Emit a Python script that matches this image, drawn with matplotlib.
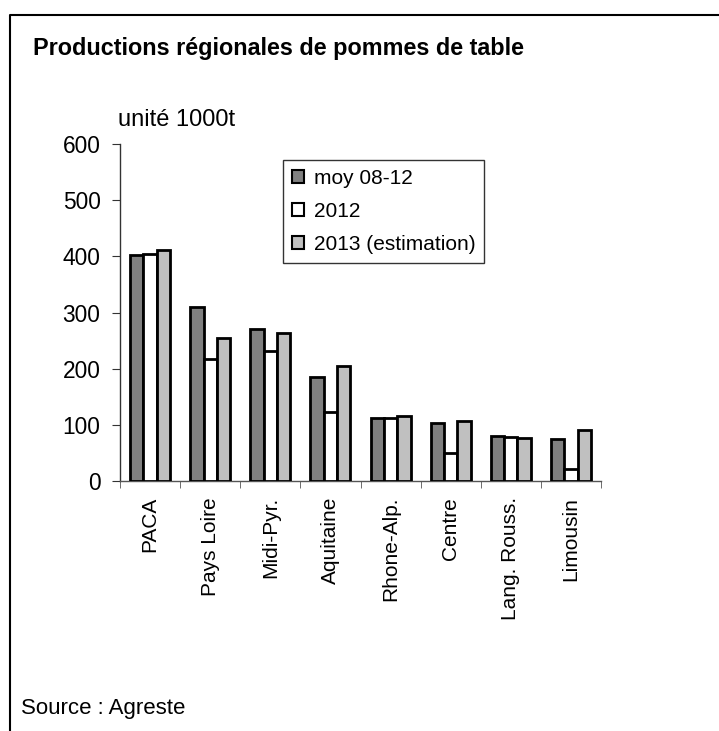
import matplotlib
matplotlib.use("Agg")
import matplotlib.pyplot as plt
import numpy as np
from matplotlib.lines import Line2D

plt.rcParams['font.family'] = ['Liberation Sans', 'DejaVu Sans']

categories = ["PACA", "Pays Loire", "Midi-Pyr.", "Aquitaine", "Rhone-Alp.", "Centre", "Lang. Rouss.", "Limousin"]
moy_08_12 = [403, 309, 271, 185, 113, 103, 81, 74]
y2012 = [405, 217, 231, 122, 112, 49, 79, 21]
y2013 = [412, 254, 263, 204, 116, 106, 76, 91]
series_names = ["moy 08-12", "2012", "2013 (estimation)"]
colors = ["#808080", "#ffffff", "#c0c0c0"]

W, H = 719, 731
fig = plt.figure(figsize=(W/100, H/100), dpi=100)
ax = fig.add_axes([120/W, 1-481/H, 481/W, 337/H])

x = np.arange(len(categories))
bw = 2/9
for i, (vals, name, c) in enumerate(zip([moy_08_12, y2012, y2013], series_names, colors)):
    ax.bar(x + (i-1)*bw, vals, width=bw, color=c, edgecolor="black", linewidth=2, label=name, zorder=3)

ax.set_xlim(-0.5, len(categories)-0.5)
ax.set_ylim(0, 600)
ax.set_yticks(range(0, 601, 100))
ax.set_xticks(x)
ax.set_xticklabels(categories, rotation=90, fontsize=15)
ax.tick_params(axis='x', length=0, pad=11.5)
ax.set_xticks(np.arange(-0.5, len(categories), 1), minor=True)
ax.tick_params(axis='x', which='minor', length=5, direction='out', color='#555555')
ax.tick_params(axis='y', length=6, direction='out', labelsize=16.4, color='#333333', pad=8)
for s in ['top', 'right']:
    ax.spines[s].set_visible(False)
ax.spines['left'].set_color('#333333')
ax.spines['bottom'].set_color('#555555')
for s in ['left', 'bottom']:
    ax.spines[s].set_linewidth(1)

leg = ax.legend(loc='upper left', bbox_to_anchor=((283-120)/481, (481-160)/337),
                fontsize=15, frameon=True, fancybox=False, edgecolor='black',
                handlelength=0.6, handleheight=0.6, handletextpad=0.45,
                labelspacing=0.68, borderpad=0.42, borderaxespad=0)
leg.get_frame().set_linewidth(1)
for p in leg.get_patches():
    p.set_linewidth(1.5)

fig.text(33/W, 1-55/H, "Productions régionales de pommes de table", fontsize=16.8, fontweight='bold', va='baseline', ha='left')
fig.text(118/W, 1-126/H, "unité 1000t", fontsize=17, va='baseline', ha='left')
fig.text(21/W, 1-714/H, "Source : Agreste", fontsize=16, va='baseline', ha='left')

fig.add_artist(Line2D([10/W, 10/W, 1], [0, 1-15/H, 1-15/H], transform=fig.transFigure, color='black', linewidth=1.5))

fig.savefig("out.png", dpi=100)
